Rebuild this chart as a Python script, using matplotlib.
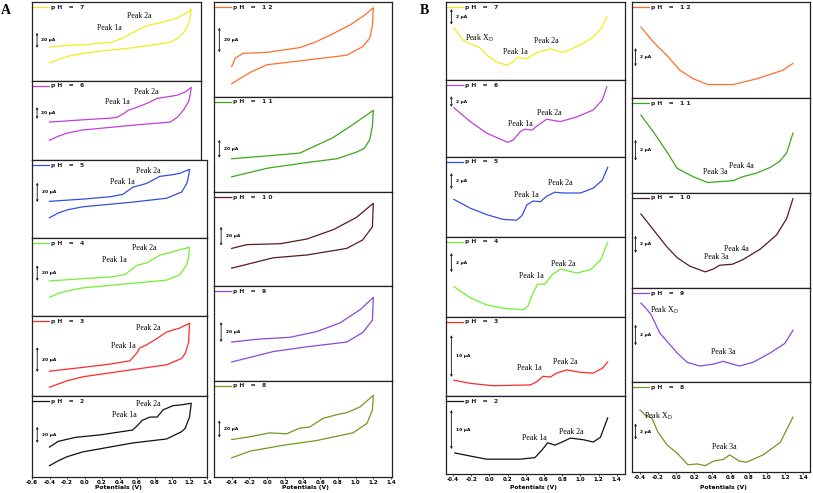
import matplotlib
matplotlib.use("Agg")
import matplotlib.pyplot as plt

plt.rcParams['mathtext.fontset'] = 'custom'
plt.rcParams['mathtext.rm'] = 'Liberation Serif'
plt.rcParams['mathtext.it'] = 'Liberation Serif:italic'

W, H = 813, 493
SERIF = 'Liberation Serif'

# ---- data: potential (V), current as fraction of panel height ----
# A: cyclic voltammograms (forward sweep then reverse sweep)
a_ph7 = [(-0.4, 0.43), (-0.2, 0.45), (0.0, 0.46), (0.31, 0.49), (0.45, 0.55), (0.55, 0.61),
         (0.71, 0.70), (0.83, 0.73), (0.95, 0.76), (1.06, 0.80), (1.15, 0.85), (1.22, 0.91),
         (1.21, 0.82), (1.19, 0.72), (1.15, 0.64), (1.08, 0.55), (0.98, 0.49), (0.8, 0.46),
         (0.55, 0.42), (0.2, 0.38), (-0.02, 0.35), (-0.2, 0.31), (-0.3, 0.27), (-0.4, 0.23)]
a_ph6 = [(-0.4, 0.48), (0.0, 0.51), (0.3, 0.53), (0.37, 0.54), (0.45, 0.59), (0.5, 0.63),
         (0.63, 0.68), (0.72, 0.72), (0.83, 0.78), (0.95, 0.80), (1.06, 0.82), (1.15, 0.86),
         (1.22, 0.92), (1.21, 0.84), (1.19, 0.74), (1.13, 0.63), (1.06, 0.54), (0.98, 0.48),
         (0.55, 0.44), (-0.02, 0.38), (-0.2, 0.34), (-0.3, 0.30), (-0.4, 0.25)]
a_ph5 = [(-0.4, 0.47), (0.0, 0.50), (0.3, 0.53), (0.44, 0.56), (0.55, 0.65), (0.71, 0.70),
         (0.86, 0.79), (1.0, 0.81), (1.09, 0.83), (1.2, 0.88), (1.19, 0.80), (1.17, 0.70),
         (1.11, 0.59), (0.94, 0.51), (0.55, 0.46), (-0.02, 0.40), (-0.2, 0.36), (-0.3, 0.32),
         (-0.4, 0.26)]
a_ph4 = [(-0.4, 0.45), (0.0, 0.48), (0.3, 0.50), (0.46, 0.53), (0.6, 0.65), (0.71, 0.68),
         (0.86, 0.78), (1.0, 0.82), (1.09, 0.85), (1.2, 0.88), (1.19, 0.76), (1.17, 0.66),
         (1.09, 0.53), (0.94, 0.46), (0.55, 0.42), (-0.02, 0.36), (-0.2, 0.32), (-0.3, 0.29),
         (-0.4, 0.24)]
a_ph3 = [(-0.4, 0.31), (0.0, 0.36), (0.3, 0.40), (0.52, 0.44), (0.6, 0.54), (0.63, 0.60),
         (0.71, 0.64), (0.83, 0.72), (0.94, 0.80), (1.09, 0.85), (1.2, 0.91), (1.195, 0.78),
         (1.19, 0.67), (1.15, 0.53), (1.11, 0.47), (0.94, 0.39), (0.55, 0.33), (-0.02, 0.24),
         (-0.2, 0.19), (-0.3, 0.15), (-0.4, 0.11)]
a_ph2 = [(-0.4, 0.37), (-0.3, 0.44), (-0.1, 0.49), (0.18, 0.52), (0.55, 0.58), (0.6, 0.63),
         (0.66, 0.70), (0.75, 0.74), (0.83, 0.74), (0.9, 0.83), (1.01, 0.88), (1.1, 0.89),
         (1.22, 0.91), (1.21, 0.82), (1.2, 0.74), (1.15, 0.60), (1.11, 0.56), (0.94, 0.47),
         (0.55, 0.42), (-0.02, 0.31), (-0.2, 0.25), (-0.3, 0.20), (-0.4, 0.14)]
a_ph12 = [(-0.4, 0.32), (-0.36, 0.41), (-0.27, 0.46), (0.0, 0.47), (0.37, 0.52), (0.55, 0.58),
          (0.71, 0.65), (0.94, 0.76), (1.1, 0.86), (1.2, 0.94), (1.19, 0.75), (1.16, 0.62),
          (1.08, 0.53), (0.9, 0.44), (0.37, 0.38), (0.0, 0.34), (-0.19, 0.26), (-0.4, 0.14)]
a_ph11 = [(-0.4, 0.35), (0.0, 0.38), (0.37, 0.41), (0.74, 0.57), (0.97, 0.71), (1.2, 0.86),
          (1.19, 0.70), (1.16, 0.55), (1.1, 0.46), (1.01, 0.42), (0.79, 0.35), (0.45, 0.31),
          (0.0, 0.25), (-0.4, 0.16)]
a_ph10 = [(-0.4, 0.40), (-0.23, 0.44), (0.15, 0.45), (0.45, 0.50), (0.75, 0.60), (1.01, 0.73),
          (1.2, 0.88), (1.195, 0.75), (1.19, 0.63), (1.08, 0.49), (0.9, 0.40), (0.45, 0.33),
          (0.07, 0.30), (-0.4, 0.19)]
a_ph9 = [(-0.4, 0.41), (-0.11, 0.44), (0.26, 0.46), (0.56, 0.52), (0.82, 0.61), (1.05, 0.75),
         (1.2, 0.88), (1.195, 0.75), (1.19, 0.64), (1.08, 0.51), (0.9, 0.41), (0.45, 0.36),
         (0.07, 0.31), (-0.4, 0.20)]
a_ph8 = [(-0.4, 0.39), (-0.19, 0.42), (0.03, 0.46), (0.22, 0.45), (0.37, 0.51), (0.48, 0.52),
         (0.63, 0.61), (0.79, 0.65), (0.9, 0.67), (1.05, 0.73), (1.2, 0.85), (1.19, 0.70),
         (1.13, 0.56), (0.97, 0.46), (0.56, 0.38), (0.18, 0.33), (-0.19, 0.27), (-0.4, 0.20)]

# B: single anodic sweeps
b_ph7 = [(-0.39, 0.67), (-0.29, 0.51), (-0.18, 0.45), (-0.1, 0.41), (-0.03, 0.32), (0.08, 0.23),
         (0.19, 0.19), (0.26, 0.23), (0.31, 0.29), (0.41, 0.27), (0.52, 0.35), (0.67, 0.40),
         (0.78, 0.36), (0.83, 0.36), (1.0, 0.45), (1.14, 0.55), (1.24, 0.68), (1.29, 0.81)]
b_ph6 = [(-0.39, 0.64), (-0.21, 0.46), (-0.03, 0.31), (0.2, 0.19), (0.26, 0.22), (0.34, 0.33),
         (0.39, 0.36), (0.47, 0.35), (0.53, 0.41), (0.63, 0.49), (0.78, 0.46), (0.96, 0.52),
         (1.14, 0.61), (1.24, 0.74), (1.29, 0.91)]
b_ph5 = [(-0.39, 0.47), (-0.21, 0.36), (-0.03, 0.28), (0.15, 0.22), (0.3, 0.21), (0.36, 0.27),
         (0.41, 0.40), (0.48, 0.45), (0.56, 0.44), (0.63, 0.51), (0.72, 0.56), (0.81, 0.55),
         (1.0, 0.55), (1.14, 0.61), (1.24, 0.71), (1.3, 0.87)]
b_ph4 = [(-0.39, 0.38), (-0.21, 0.24), (-0.03, 0.15), (0.15, 0.11), (0.37, 0.09), (0.42, 0.13),
         (0.48, 0.30), (0.53, 0.41), (0.61, 0.41), (0.69, 0.53), (0.78, 0.60), (0.96, 0.55),
         (1.11, 0.59), (1.22, 0.71), (1.3, 0.93)]
b_ph3 = [(-0.39, 0.20), (-0.21, 0.16), (0.04, 0.13), (0.45, 0.14), (0.52, 0.18), (0.59, 0.25),
         (0.67, 0.24), (0.74, 0.29), (0.85, 0.33), (1.0, 0.30), (1.14, 0.29), (1.24, 0.35),
         (1.3, 0.43)]
b_ph2 = [(-0.38, 0.27), (-0.21, 0.23), (-0.03, 0.19), (0.34, 0.19), (0.5, 0.21), (0.58, 0.31),
         (0.64, 0.40), (0.72, 0.37), (0.8, 0.41), (0.89, 0.46), (1.03, 0.44), (1.14, 0.41),
         (1.22, 0.47), (1.3, 0.72)]
b_ph12 = [(-0.39, 0.74), (-0.25, 0.58), (-0.1, 0.44), (0.04, 0.29), (0.19, 0.20), (0.35, 0.14),
          (0.63, 0.14), (0.89, 0.20), (1.18, 0.29), (1.29, 0.36)]
b_ph11 = [(-0.39, 0.82), (-0.25, 0.64), (-0.1, 0.43), (0.01, 0.26), (0.19, 0.17), (0.35, 0.11),
          (0.48, 0.12), (0.63, 0.13), (0.73, 0.17), (0.89, 0.21), (1.04, 0.27), (1.14, 0.33),
          (1.22, 0.42), (1.29, 0.63)]
b_ph10 = [(-0.39, 0.78), (-0.25, 0.61), (-0.1, 0.43), (0.01, 0.32), (0.15, 0.23), (0.32, 0.17),
          (0.41, 0.20), (0.48, 0.24), (0.62, 0.25), (0.74, 0.30), (0.93, 0.41), (1.11, 0.56),
          (1.22, 0.73), (1.29, 0.94)]
b_ph9 = [(-0.39, 0.84), (-0.34, 0.79), (-0.28, 0.72), (-0.18, 0.52), (0.01, 0.31), (0.12, 0.21),
         (0.26, 0.17), (0.41, 0.19), (0.52, 0.22), (0.59, 0.20), (0.7, 0.17), (0.85, 0.21),
         (1.04, 0.31), (1.2, 0.41), (1.29, 0.55)]
b_ph8 = [(-0.4, 0.69), (-0.34, 0.63), (-0.27, 0.60), (-0.2, 0.44), (-0.1, 0.30), (0.01, 0.21),
         (0.13, 0.08), (0.23, 0.09), (0.32, 0.07), (0.41, 0.12), (0.52, 0.14), (0.59, 0.19),
         (0.7, 0.12), (0.78, 0.11), (0.96, 0.19), (1.15, 0.33), (1.29, 0.61)]

# peak annotations (label, potential, current)
XD = r"Peak X$_{\rm D}$"
a_peaks = {
    "7": [("Peak 1a", 0.28, 0.67), ("Peak 2a", 0.63, 0.82)],
    "6": [("Peak 1a", 0.38, 0.73), ("Peak 2a", 0.71, 0.86)],
    "5": [("Peak 1a", 0.43, 0.72), ("Peak 2a", 0.73, 0.86)],
    "4": [("Peak 1a", 0.34, 0.72), ("Peak 2a", 0.68, 0.87)],
    "3": [("Peak 1a", 0.44, 0.63), ("Peak 2a", 0.73, 0.85)],
    "2": [("Peak 1a", 0.45, 0.77), ("Peak 2a", 0.73, 0.90)],
}
b_peaks = {
    "7": [(XD, -0.11, 0.53), ("Peak 1a", 0.29, 0.36), ("Peak 2a", 0.62, 0.50)],
    "6": [("Peak 1a", 0.34, 0.43), ("Peak 2a", 0.66, 0.57)],
    "5": [("Peak 1a", 0.41, 0.52), ("Peak 2a", 0.78, 0.67)],
    "4": [("Peak 1a", 0.46, 0.51), ("Peak 2a", 0.81, 0.66)],
    "3": [("Peak 1a", 0.44, 0.35), ("Peak 2a", 0.83, 0.43)],
    "2": [("Peak 1a", 0.49, 0.46), ("Peak 2a", 0.90, 0.54)],
    "11": [("Peak 3a", 0.43, 0.22), ("Peak 4a", 0.72, 0.28)],
    "10": [("Peak 3a", 0.44, 0.33), ("Peak 4a", 0.66, 0.41)],
    "9": [(XD, -0.13, 0.76), ("Peak 3a", 0.52, 0.32)],
    "8": [(XD, -0.20, 0.62), ("Peak 3a", 0.53, 0.28)],
}

COLORS = {"7": "#eeee1e", "6": "#c040d8", "5": "#3050e0", "4": "#72f030", "3": "#ff2a2a",
          "2": "#111111", "12": "#ff6f2a", "11": "#3aa81a", "10": "#5a1a1a", "9": "#8a48e0",
          "8": "#6f9a20"}

# ---- layout (pixels) ----
# column: left, right, pixel of reference potential, reference potential, px per volt
COL_AL = (32, 207, 32, -0.6, 87.5)
COL_AR = (214, 392, 214, -0.6, 88.5)
COL_BL = (446, 625, 453, -0.4, 91.0)
COL_BR = (632, 810, 640, -0.4, 90.5)

fig = plt.figure(figsize=(W / 100, H / 100), dpi=100)


def panel(col, top, bot, ph, curve, peaks, bar, bar_txt, ticks=None, right=None):
    left, rgt, xref, eref, ppv = col
    if right is not None:
        rgt = right
    w, h = rgt - left, bot - top
    ax = fig.add_axes([left / W, 1 - bot / H, w / W, h / H])
    ax.set_xlim(eref + (left - xref) / ppv, eref + (rgt - xref) / ppv)
    ax.set_ylim(0, 1)
    for s in ax.spines.values():
        s.set_color('#222222')
        s.set_linewidth(0.9)
    c = COLORS[ph]
    ax.plot([p[0] for p in curve], [p[1] for p in curve], color=c, lw=0.9,
            solid_joinstyle='round')
    # legend line + label
    yl = 1 - 5 / h
    ax.plot([0.0, 17 / w], [yl, yl], color=c, lw=0.9, transform=ax.transAxes,
            clip_on=False)
    ax.text(19 / w, yl, "p H   =   " + " ".join(ph), transform=ax.transAxes,
            fontsize=4.3, fontweight='bold', va='center', ha='left', color='#222222')
    # scale bar
    bx, by0, by1 = bar
    ax.annotate('', xy=(bx, by1), xytext=(bx, by0), xycoords='axes fraction',
                arrowprops=dict(arrowstyle='<->', lw=0.6, color='#111111',
                                mutation_scale=3, shrinkA=0, shrinkB=0))
    ax.text(bx + 0.025, (by0 + by1) / 2, bar_txt, transform=ax.transAxes,
            fontsize=3.2, fontweight='bold', va='center', ha='left')
    for lbl, e, i in peaks:
        ax.text(e, i, lbl, fontsize=5.7, family=SERIF, ha='center', va='center')
    if ticks:
        ax.set_xticks(ticks)
        ax.set_xticklabels([f"{t:.1f}" for t in ticks], fontsize=4, fontweight='bold')
        ax.tick_params(axis='x', length=1.5, width=0.5, pad=1)
        ax.set_yticks([])
    else:
        ax.set_xticks([])
        ax.set_yticks([])
    return ax


ticks_a = [round(-0.6 + 0.2 * k, 1) for k in range(11)]
ticks_b = [round(-0.4 + 0.2 * k, 1) for k in range(10)]

# A left column
panel(COL_AL, 2, 81, "7", a_ph7, a_peaks["7"], (0.03, 0.42, 0.61), "20 \u03bcA", right=201)
panel(COL_AL, 81, 160, "6", a_ph6, a_peaks["6"], (0.03, 0.52, 0.67), "20 \u03bcA", right=201)
panel(COL_AL, 160, 238, "5", a_ph5, a_peaks["5"], (0.03, 0.46, 0.71), "20 \u03bcA")
panel(COL_AL, 238, 316, "4", a_ph4, a_peaks["4"], (0.03, 0.45, 0.65), "20 \u03bcA")
panel(COL_AL, 316, 396, "3", a_ph3, a_peaks["3"], (0.03, 0.30, 0.61), "20 \u03bcA")
panel(COL_AL, 396, 477, "2", a_ph2, a_peaks["2"], (0.03, 0.42, 0.62), "20 \u03bcA", ticks=ticks_a)

# A right column
panel(COL_AR, 2, 97, "12", a_ph12, [], (0.03, 0.47, 0.73), "20 \u03bcA")
panel(COL_AR, 97, 192, "11", a_ph11, [], (0.03, 0.36, 0.55), "20 \u03bcA")
panel(COL_AR, 192, 286, "10", a_ph10, [], (0.04, 0.43, 0.63), "20 \u03bcA")
panel(COL_AR, 286, 381, "9", a_ph9, [], (0.04, 0.41, 0.62), "20 \u03bcA")
panel(COL_AR, 381, 477, "8", a_ph8, [], (0.03, 0.41, 0.59), "20 \u03bcA", ticks=ticks_b)

# B left column
panel(COL_BL, 2, 80, "7", b_ph7, b_peaks["7"], (0.03, 0.71, 0.91), "2 \u03bcA")
panel(COL_BL, 80, 157, "6", b_ph6, b_peaks["6"], (0.03, 0.65, 0.79), "2 \u03bcA")
panel(COL_BL, 157, 237, "5", b_ph5, b_peaks["5"], (0.03, 0.60, 0.80), "2 \u03bcA")
panel(COL_BL, 237, 317, "4", b_ph4, b_peaks["4"], (0.03, 0.56, 0.80), "2 \u03bcA")
panel(COL_BL, 317, 396, "3", b_ph3, b_peaks["3"], (0.03, 0.24, 0.77), "10 \u03bcA")
panel(COL_BL, 396, 474, "2", b_ph2, b_peaks["2"], (0.03, 0.32, 0.82), "10 \u03bcA", ticks=ticks_b)

# B right column
panel(COL_BR, 2, 98, "12", b_ph12, [], (0.02, 0.33, 0.52), "2 \u03bcA")
panel(COL_BR, 98, 193, "11", b_ph11, b_peaks["11"], (0.02, 0.34, 0.56), "2 \u03bcA")
panel(COL_BR, 193, 288, "10", b_ph10, b_peaks["10"], (0.02, 0.37, 0.55), "2 \u03bcA")
panel(COL_BR, 288, 382, "9", b_ph9, b_peaks["9"], (0.02, 0.39, 0.61), "2 \u03bcA")
panel(COL_BR, 382, 472, "8", b_ph8, b_peaks["8"], (0.02, 0.36, 0.54), "2 \u03bcA", ticks=ticks_b)

# axis titles and panel letters
for xc in (118, 305, 533, 723):
    fig.text(xc / W, 1 - 488 / H, "Potentials (V)", fontsize=4.3, fontweight='bold',
             ha='center', va='center')
fig.text(6 / W, 1 - 10 / H, "A", fontsize=10, fontweight='bold', family=SERIF,
         ha='center', va='center')
fig.text(424 / W, 1 - 10 / H, "B", fontsize=10, fontweight='bold', family=SERIF,
         ha='center', va='center')

fig.savefig("out.png", dpi=100)
